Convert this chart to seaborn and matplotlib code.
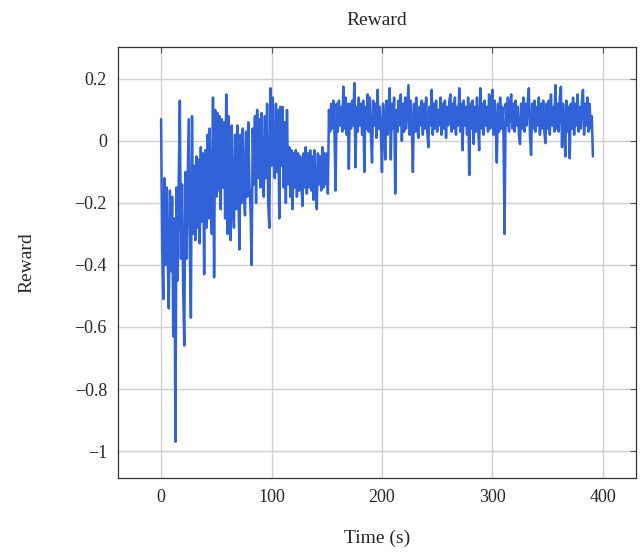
import numpy as np
import pandas as pd
import seaborn as sns
import matplotlib
matplotlib.use("Agg")
import matplotlib.pyplot as plt

# Reward values, one per second (t = 0 .. 391 s)
reward = [
    0.07, -0.35, -0.51, -0.12, -0.40, -0.15, -0.38, -0.54, -0.16, -0.42,
    -0.18, -0.63, -0.25, -0.97, -0.15, -0.45, -0.12, 0.13, -0.38, -0.14,
    -0.48, -0.66, -0.10, -0.38, -0.15, 0.07, -0.35, -0.57, 0.08, -0.30,
    -0.08, -0.32, -0.05, -0.28, -0.06, -0.33, -0.02, -0.26, -0.04, -0.43,
    -0.03, -0.28, 0.02, -0.25, 0.04, -0.22, -0.30, 0.14, -0.44, 0.10,
    -0.18, 0.09, -0.16, 0.08, -0.22, 0.07, -0.15, 0.06, -0.25, 0.15,
    -0.30, 0.08, -0.18, -0.32, 0.05, -0.20, -0.28, 0.02, -0.22, 0.05,
    -0.18, -0.35, 0.02, -0.20, 0.04, -0.16, -0.24, 0.03, -0.18, 0.06,
    -0.14, -0.22, -0.40, 0.04, -0.14, 0.08, -0.20, 0.10, -0.12, 0.07,
    -0.15, 0.09, -0.10, -0.18, 0.08, -0.12, 0.12, -0.20, -0.28, 0.17,
    -0.08, 0.14, -0.06, -0.12, 0.12, -0.10, 0.10, -0.25, 0.11, -0.08,
    0.11, -0.15, 0.06, -0.20, 0.10, -0.14, -0.02, -0.18, -0.03, -0.22,
    -0.04, -0.15, -0.03, -0.18, -0.04, -0.16, -0.05, -0.14, -0.21, -0.04,
    -0.15, -0.02, -0.17, -0.04, -0.15, -0.03, -0.16, -0.05, -0.19, -0.03,
    -0.15, -0.22, -0.04, -0.14, -0.05, -0.16, -0.02, -0.15, -0.04, -0.14,
    -0.04, -0.17, 0.10, 0.03, 0.12, 0.04, 0.13, 0.02, -0.16, 0.12,
    0.03, 0.13, 0.05, 0.11, 0.03, 0.175, 0.04, 0.14, 0.02, 0.12,
    -0.09, 0.12, 0.04, 0.13, 0.05, 0.187, -0.085, 0.11, 0.03, 0.14,
    0.05, 0.12, 0.02, 0.13, -0.10, 0.11, 0.04, 0.15, 0.03, 0.14,
    0.02, -0.07, 0.13, 0.05, 0.12, 0.01, 0.165, 0.04, 0.11, 0.03,
    -0.10, 0.12, 0.05, -0.06, 0.13, 0.02, 0.11, 0.17, -0.06, 0.12,
    0.04, 0.14, -0.17, 0.10, 0.03, 0.13, 0.05, 0.15, 0.00, 0.12,
    0.03, 0.14, 0.04, 0.11, 0.18, 0.02, 0.13, 0.05, -0.10, 0.12,
    0.03, 0.14, 0.04, 0.01, 0.11, 0.05, 0.13, 0.02, 0.12, 0.04,
    0.14, 0.03, -0.02, 0.11, 0.05, 0.165, 0.02, 0.12, 0.04, 0.13,
    0.03, 0.10, 0.05, 0.14, 0.02, 0.12, 0.04, 0.13, 0.01, 0.11,
    0.05, 0.13, 0.15, 0.03, 0.12, 0.04, 0.14, 0.02, 0.11, 0.05,
    0.17, 0.03, 0.12, -0.03, 0.13, 0.05, 0.11, 0.02, 0.14, -0.11,
    0.12, 0.04, 0.13, -0.01, 0.11, 0.03, 0.14, 0.05, -0.03, 0.17,
    0.04, 0.12, 0.02, 0.13, 0.05, 0.11, 0.03, 0.15, 0.04, 0.12,
    0.165, 0.02, 0.13, 0.05, -0.07, 0.12, 0.03, 0.14, 0.04, 0.11,
    0.02, -0.30, 0.12, 0.05, 0.14, 0.03, 0.11, 0.15, 0.04, 0.12,
    0.03, 0.13, 0.05, 0.11, 0.02, -0.01, 0.12, 0.04, 0.14, 0.03,
    0.12, 0.05, 0.13, 0.17, 0.02, -0.045, 0.12, 0.04, 0.13, 0.03,
    0.11, 0.05, 0.14, 0.02, 0.12, 0.04, 0.13, 0.03, -0.007, 0.12,
    0.04, 0.13, 0.02, 0.15, 0.05, 0.11, 0.03, 0.18, 0.04, 0.12,
    0.03, 0.14, 0.175, -0.02, 0.12, 0.05, -0.05, 0.13, 0.03, 0.11,
    -0.056, 0.12, 0.04, 0.14, 0.02, 0.12, 0.05, 0.15, 0.03, 0.11,
    0.04, 0.13, 0.165, 0.02, 0.12, 0.05, 0.14, 0.03, 0.12, 0.04,
    0.08, -0.05,
]
time_s = list(range(len(reward)))

x_ticks = [0, 100, 200, 300, 400]
y_ticks = [0.2, 0.0, -0.2, -0.4, -0.6, -0.8, -1.0]
y_tick_labels = ["0.2", "0", "\u22120.2", "\u22120.4", "\u22120.6", "\u22120.8", "\u22121"]

df = pd.DataFrame({"Time (s)": time_s, "Reward": reward})

sns.set_style("whitegrid")
plt.rcParams["font.family"] = ["Liberation Serif", "DejaVu Serif"]
plt.rcParams["axes.unicode_minus"] = True

fig = plt.figure(figsize=(6.44, 5.52), dpi=100)
ax = fig.add_axes([118 / 644, 1 - 478 / 552, (636 - 118) / 644, (478 - 47) / 552])

sns.lineplot(data=df, x="Time (s)", y="Reward", ax=ax, color="#3162D8",
             linewidth=1.8, estimator=None, sort=False)

ax.set_xlim(-39, 430)
ax.set_ylim(-1.087, 0.303)
ax.set_xticks(x_ticks)
ax.set_xticklabels([str(v) for v in x_ticks])
ax.set_yticks(y_ticks)
ax.set_yticklabels(y_tick_labels)

ax.grid(True, color="#cfcfcf", linewidth=1.0)
for s in ax.spines.values():
    s.set_color("#333333")
    s.set_linewidth(0.9)
ax.tick_params(axis="both", direction="in", length=4, width=0.8, color="#555555",
               labelsize=13, top=True, right=True, pad=8)

ax.set_title("Reward", fontsize=14, pad=16)
ax.set_xlabel("Time (s)", fontsize=14, labelpad=17)
ax.set_ylabel("Reward", fontsize=14, labelpad=28)

fig.savefig("out.png", dpi=100)
